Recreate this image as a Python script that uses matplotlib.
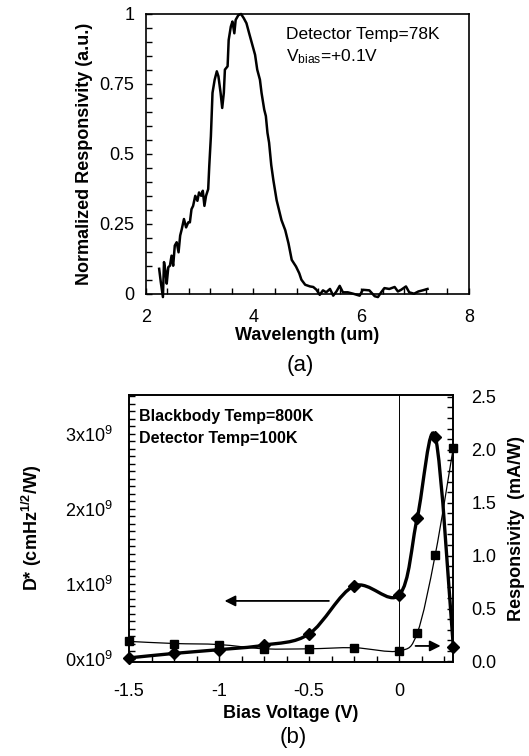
import numpy as np
import matplotlib.pyplot as plt
from matplotlib.path import Path
from matplotlib.patches import PathPatch
from matplotlib.ticker import MultipleLocator, FixedLocator, FuncFormatter

plt.rcParams['font.family'] = ['Liberation Sans', 'DejaVu Sans']
plt.rcParams['mathtext.fontset'] = 'custom'
plt.rcParams['mathtext.rm'] = 'Liberation Sans'
plt.rcParams['mathtext.it'] = 'Liberation Sans:italic'
plt.rcParams['mathtext.bf'] = 'Liberation Sans:bold'

# (a) spectre normalisé
wavelength = [2.25, 2.28, 2.32, 2.34, 2.37, 2.39, 2.42, 2.45, 2.48, 2.51, 2.54, 2.575, 2.61,
              2.64, 2.67, 2.71, 2.75, 2.79, 2.82, 2.85, 2.88, 2.92, 2.96, 2.99, 3.03, 3.06,
              3.09, 3.12, 3.16, 3.18, 3.21, 3.24, 3.28, 3.32, 3.35, 3.39, 3.42, 3.45, 3.47,
              3.52, 3.54, 3.58, 3.61, 3.645, 3.67, 3.72, 3.77, 3.82, 3.87, 3.92, 3.97, 4.03,
              4.07, 4.12, 4.15, 4.20, 4.23, 4.26, 4.29, 4.33, 4.37, 4.43, 4.52, 4.59, 4.65,
              4.71, 4.79, 4.85, 4.89, 4.96, 5.05, 5.11, 5.17, 5.23, 5.29, 5.35, 5.42, 5.48,
              5.54, 5.60, 5.66, 5.75, 5.85, 5.97, 6.03, 6.15, 6.25, 6.31, 6.37, 6.43, 6.52,
              6.62, 6.68, 6.74, 6.83, 6.89, 6.98, 7.06, 7.14, 7.23]
responsivity_norm = [0.089, 0.042, -0.012, 0.113, 0.077, 0.036, 0.095, 0.10, 0.136, 0.10, 0.172,
                     0.184, 0.148, 0.208, 0.231, 0.267, 0.237, 0.255, 0.255, 0.302, 0.314, 0.350,
                     0.332, 0.362, 0.350, 0.368, 0.314, 0.350, 0.374, 0.457, 0.563, 0.718, 0.765,
                     0.795, 0.777, 0.718, 0.664, 0.718, 0.801, 0.813, 0.907, 0.955, 0.973, 0.931,
                     0.979, 0.996, 1.0, 0.985, 0.967, 0.931, 0.896, 0.854, 0.801, 0.765, 0.718,
                     0.658, 0.635, 0.575, 0.540, 0.46, 0.405, 0.334, 0.263, 0.227, 0.18, 0.121,
                     0.097, 0.073, 0.05, 0.032, 0.026, 0.024, 0.014, -0.004, 0.012, 0.005, 0.017,
                     -0.007, 0.008, 0.028, 0.005, 0.005, 0.0, -0.007, 0.014, 0.012, -0.009,
                     -0.012, 0.005, 0.02, 0.017, 0.024, 0.008, 0.014, 0.026, 0.005, 0.0, 0.008,
                     0.012, 0.017]

# (b) D* et réponse en fonction de la tension
bias = [-1.5, -1.25, -1.0, -0.75, -0.5, -0.25, 0.0, 0.1, 0.2, 0.3]
dstar = [0.01, 0.07, 0.12, 0.18, 0.33, 0.97, 0.85, 1.88, 2.96, 0.16]   # x10^9
resp = [0.19, 0.17, 0.16, 0.12, 0.12, 0.13, 0.10, 0.27, 1.01, 2.02]    # mA/W


def courbe_lisse(x, y):
    # lissage type Excel (Catmull-Rom -> Bezier)
    pts = np.column_stack([x, y])
    p = np.vstack([pts[0], pts, pts[-1]])
    verts = [pts[0]]
    codes = [Path.MOVETO]
    for i in range(1, len(p) - 2):
        c1 = p[i] + (p[i + 1] - p[i - 1]) / 6
        c2 = p[i + 1] - (p[i + 2] - p[i]) / 6
        verts += [c1, c2, p[i + 1]]
        codes += [Path.CURVE4] * 3
    return Path(verts, codes)


fig = plt.figure(figsize=(5.29, 7.56), dpi=100)

# ---- (a) ----
ax1 = fig.add_axes([0.2754, 0.6115, 0.6112, 0.370])
ax1.plot(wavelength, responsivity_norm, color='k', lw=1.8, clip_on=False)
ax1.set_xlim(2, 8)
ax1.set_ylim(0, 1)
ax1.xaxis.set_major_locator(FixedLocator([2, 4, 6, 8]))
ax1.xaxis.set_minor_locator(MultipleLocator(0.4))
ax1.yaxis.set_major_locator(FixedLocator([0, 0.25, 0.5, 0.75, 1]))
ax1.yaxis.set_minor_locator(MultipleLocator(0.05))
ax1.yaxis.set_major_formatter(FuncFormatter(lambda v, p: '%g' % v))
ax1.tick_params(which='both', direction='in', length=4, width=1, labelsize=13)
ax1.tick_params(axis='y', pad=8)
ax1.tick_params(axis='x', pad=11)
ax1.set_xlabel('Wavelength (um)', fontsize=13, fontweight='bold', labelpad=1)
ax1.set_ylabel('Normalized Responsivity (a.u.)', fontsize=13, fontweight='bold', labelpad=5)
ax1.text(4.6, 0.925, 'Detector Temp=78K', fontsize=12.5, va='center')
ax1.text(4.6, 0.846, r'V$_{\mathrm{bias}}$=+0.1V', fontsize=12.5, va='center')
for s in ax1.spines.values():
    s.set_linewidth(1.2)
fig.text(0.567, 0.517, '(a)', fontsize=16, ha='center', va='center')

# ---- (b) ----
ax2 = fig.add_axes([0.2439, 0.1243, 0.613, 0.3536])
ax2r = ax2.twinx()
ax2.set_xlim(-1.5, 0.3)
ax2.set_ylim(-0.045, 3.52)
ax2r.set_ylim(-0.005, 2.52)

ax2.axvline(0, color='k', lw=0.7)
ax2.add_patch(PathPatch(courbe_lisse(bias, dstar), fill=False, lw=2.4, color='k'))
ax2.plot(bias, dstar, 'D', color='k', ms=6.5, ls='none', clip_on=False)
ax2r.add_patch(PathPatch(courbe_lisse(bias, resp), fill=False, lw=0.9, color='k'))
ax2r.plot(bias, resp, 's', color='k', ms=6, ls='none', clip_on=False)

ax2.annotate('', xy=(-0.985, 0.77), xytext=(-0.375, 0.77),
             arrowprops=dict(arrowstyle='-|>', color='k', lw=1.3, mutation_scale=16))
ax2r.annotate('', xy=(0.245, 0.147), xytext=(0.075, 0.147),
              arrowprops=dict(arrowstyle='-|>', color='k', lw=1.3, mutation_scale=16))

ax2.xaxis.set_major_locator(FixedLocator([-1.5, -1, -0.5, 0]))
ax2.xaxis.set_major_formatter(FuncFormatter(lambda v, p: '%g' % v))
ax2.xaxis.set_minor_locator(MultipleLocator(0.125))
ax2.yaxis.set_major_locator(FixedLocator([0, 1, 2, 3]))
ax2.yaxis.set_major_formatter(FuncFormatter(lambda v, p: r'%dx10$^{9}$' % v))
ax2.yaxis.set_minor_locator(MultipleLocator(0.1))
ax2r.yaxis.set_major_locator(FixedLocator([0, 0.5, 1.0, 1.5, 2.0, 2.5]))
ax2r.yaxis.set_major_formatter(FuncFormatter(lambda v, p: '%.1f' % v))
ax2r.yaxis.set_minor_locator(MultipleLocator(0.1))
ax2.tick_params(which='both', direction='in', length=4, width=1, labelsize=13)
ax2.tick_params(axis='y', pad=12)
ax2.tick_params(axis='x', pad=15)
ax2r.tick_params(which='both', direction='in', length=4, width=1, labelsize=13, pad=13)

ax2.set_xlabel('Bias Voltage (V)', fontsize=13, fontweight='bold', labelpad=4)
ax2.set_ylabel(r'D* (cmHz$^{\mathbf{1/2}}$/W)', fontsize=13, fontweight='bold', labelpad=15)
ax2r.set_ylabel('Responsivity  (mA/W)', fontsize=13, fontweight='bold', labelpad=8)
ax2.text(-1.444, 3.23, 'Blackbody Temp=800K', fontsize=11.5, fontweight='bold', va='center')
ax2.text(-1.444, 2.94, 'Detector Temp=100K', fontsize=11.5, fontweight='bold', va='center')
for a in (ax2, ax2r):
    for s in a.spines.values():
        s.set_linewidth(1.2)
fig.text(0.554, 0.025, '(b)', fontsize=16, ha='center', va='center')

fig.savefig('out.png', dpi=100)
